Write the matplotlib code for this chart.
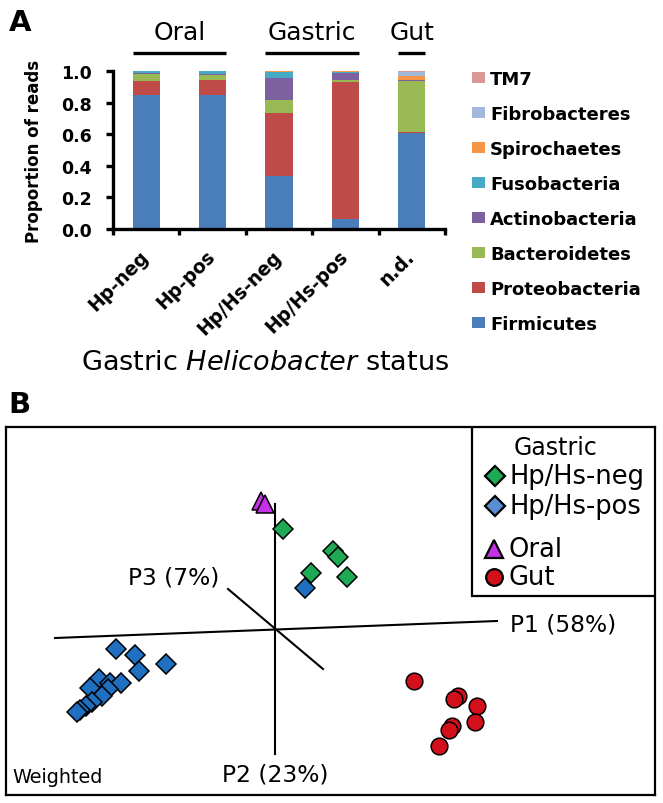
import matplotlib
matplotlib.use("Agg")
import matplotlib.pyplot as plt
from matplotlib.patches import Patch, Rectangle
import numpy as np

# ---------------- Panel A data ----------------
categories = ["Hp-neg", "Hp-pos", "Hp/Hs-neg", "Hp/Hs-pos", "n.d."]
phyla = ["Firmicutes", "Proteobacteria", "Bacteroidetes", "Actinobacteria",
         "Fusobacteria", "Spirochaetes", "Fibrobacteres", "TM7"]
firmicutes     = [0.850, 0.850, 0.335, 0.062, 0.607]
proteobacteria = [0.085, 0.095, 0.400, 0.870, 0.008]
bacteroidetes  = [0.045, 0.030, 0.080, 0.012, 0.323]
actinobacteria = [0.005, 0.008, 0.140, 0.045, 0.002]
fusobacteria   = [0.013, 0.015, 0.040, 0.007, 0.001]
spirochaetes   = [0.001, 0.001, 0.002, 0.002, 0.030]
fibrobacteres  = [0.0005, 0.0005, 0.001, 0.001, 0.020]
tm7            = [0.0005, 0.0005, 0.002, 0.001, 0.009]
phylum_colors = ["#4A7EBB", "#BE4B48", "#98B954", "#7D60A0",
                 "#46AAC5", "#F69546", "#A3B9DC", "#D99795"]
groups = ["Oral", "Gastric", "Gut"]
group_spans = [(0, 1), (2, 3), (4, 4)]
yticks = [0.0, 0.2, 0.4, 0.6, 0.8, 1.0]

# ---------------- Panel B data (PCoA coordinates) ----------------
oral_x = [-0.14, -0.10]
oral_y = [1.28, 1.25]
neg_x = [0.08, 0.58, 0.63, 0.36, 0.72]
neg_y = [1.00, 0.78, 0.72, 0.56, 0.52]
pos_x = [0.30, -1.59, -1.40, -1.09, -1.36, -1.76, -1.65, -1.54, -1.67,
         -1.85, -1.73, -1.83, -1.89, -1.95, -1.98]
pos_y = [0.41, -0.20, -0.26, -0.35, -0.42, -0.50, -0.54, -0.54, -0.60,
         -0.59, -0.67, -0.73, -0.77, -0.81, -0.83]
gut_x = [1.39, 1.83, 1.79, 2.02, 2.00, 1.77, 1.74, 1.64]
gut_y = [-0.52, -0.67, -0.70, -0.77, -0.93, -0.97, -1.01, -1.17]
axis_labels = ["P1 (58%)", "P2 (23%)", "P3 (7%)"]

W, H = 663, 804
fig = plt.figure(figsize=(W / 100, H / 100), dpi=100)

def fx(px):
    return px / W

def fy(py):
    return 1 - py / H

# ================= Panel A =================
axA = fig.add_axes([fx(113), fy(230), (445 - 113) / W, (230 - 72) / H])
series = [firmicutes, proteobacteria, bacteroidetes, actinobacteria,
          fusobacteria, spirochaetes, fibrobacteres, tm7]
x = np.arange(len(categories))
bottom = np.zeros(len(categories))
bw = 0.41
handles = []
for name, vals, col in zip(phyla, series, phylum_colors):
    axA.bar(x, vals, bw, bottom=bottom, color=col, edgecolor="none")
    bottom += np.array(vals)
    handles.append(Patch(facecolor=col, edgecolor="none", label=name))

axA.set_xlim(-0.5, len(categories) - 0.5)
axA.set_ylim(0, 1.0)
axA.spines["top"].set_visible(False)
axA.spines["right"].set_visible(False)
for s in ["left", "bottom"]:
    axA.spines[s].set_linewidth(2.4)
axA.set_yticks(yticks)
axA.set_yticklabels([f"{v:.1f}" for v in yticks], fontsize=12.5, fontweight="bold")
axA.tick_params(axis="y", length=5, width=2.4, pad=10)
axA.set_xticks(np.arange(len(categories) + 1) - 0.5)
axA.set_xticklabels([])
axA.tick_params(axis="x", length=4, width=2.4)
for xi, lab in zip(x, categories):
    axA.text(xi - 0.01, -0.152, lab, rotation=45, rotation_mode="anchor",
             ha="right", va="center", fontsize=13.5, fontweight="bold",
             transform=axA.transData, clip_on=False)
axA.set_ylabel("Proportion of reads", fontsize=12, fontweight="bold")
axA.yaxis.set_label_coords(-0.212, 0.5)

# group header lines and labels
for g, (a, b) in zip(groups, group_spans):
    x0, x1 = a - bw / 2, b + bw / 2
    axA.plot([x0, x1], [1.112, 1.112], color="black", lw=2.4,
             clip_on=False, solid_capstyle="butt")
    axA.text((x0 + x1) / 2, 1.245, g, ha="center", va="center", fontsize=18,
             clip_on=False)

fig.text(fx(265), fy(363), "Gastric $\\it{Helicobacter}$ status",
         ha="center", va="center", fontsize=19.5)

legA = fig.legend(handles[::-1], phyla[::-1], loc="upper left",
                  bbox_to_anchor=(fx(472), fy(71)), frameon=False,
                  prop={"size": 13, "weight": "bold"}, handlelength=0.72,
                  handleheight=0.6, handletextpad=0.28, labelspacing=0.94,
                  borderpad=0, borderaxespad=0)

fig.text(fx(20), fy(23), "A", ha="center", va="center", fontsize=21,
         fontweight="bold")
fig.text(fx(19), fy(405), "B", ha="center", va="center", fontsize=21,
         fontweight="bold")

# ================= Panel B =================
axB = fig.add_axes([fx(6), fy(796), (655 - 6) / W, (796 - 428) / H])
axB.set_xlim((6 - 275) / 100, (655 - 275) / 100)
axB.set_ylim((630 - 796) / 100, (630 - 428) / 100)
axB.set_xticks([])
axB.set_yticks([])
for s in axB.spines.values():
    s.set_linewidth(1.6)

# coordinate axes of the PCoA plot
axB.plot([-2.20, 2.22], [-0.09, 0.08], color="black", lw=1.5, zorder=1)
axB.plot([0, 0], [1.25, -1.25], color="black", lw=1.5, zorder=1)
axB.plot([-0.47, 0.48], [0.40, -0.40], color="black", lw=1.5, zorder=1)
axB.text(2.35, 0.05, axis_labels[0], ha="left", va="center", fontsize=16.8)
axB.text(0.0, -1.45, axis_labels[1], ha="center", va="center", fontsize=16.8)
axB.text(-1.01, 0.52, axis_labels[2], ha="center", va="center", fontsize=16.8)
axB.text(-2.63, -1.48, "Weighted", ha="left", va="center", fontsize=13.8)

green = "#1EAA55"
blue = "#1F70C1"
blue_leg = "#5A8ED2"
magenta = "#C530E8"
red = "#D20F1A"
mk = dict(linestyle="none", markeredgecolor="black", markeredgewidth=1.1, zorder=3)
axB.plot(pos_x, pos_y, marker="D", markersize=10, markerfacecolor=blue, **mk)
axB.plot(neg_x, neg_y, marker="D", markersize=10, markerfacecolor=green, **mk)
axB.plot(oral_x, oral_y, marker="^", markersize=13, markerfacecolor=magenta, **mk)
axB.plot(gut_x, gut_y, marker="o", markersize=12, markerfacecolor=red, **mk)

# legend box
axB.add_patch(Rectangle((1.97, 0.33), 3.80 - 1.97, 2.02 - 0.33, facecolor="white",
                        edgecolor="black", lw=1.6, zorder=4))
axB.text(2.39, 1.82, "Gastric", ha="left", va="center", fontsize=17, zorder=5)
leg_items = [("Hp/Hs-neg", "D", green, 10, 2.20, 1.53, 2.35),
             ("Hp/Hs-pos", "D", blue_leg, 10, 2.20, 1.23, 2.35),
             ("Oral", "^", magenta, 13, 2.19, 0.80, 2.34),
             ("Gut", "o", red, 12, 2.19, 0.52, 2.34)]
for lab, m, c, ms, mx, my, tx in leg_items:
    axB.plot([mx], [my], marker=m, markersize=ms, markerfacecolor=c,
             linestyle="none", markeredgecolor="black", markeredgewidth=1.6, zorder=5)
    axB.text(tx, my, lab, ha="left", va="center", fontsize=18.5, zorder=5)

fig.savefig("out.png", dpi=100)
